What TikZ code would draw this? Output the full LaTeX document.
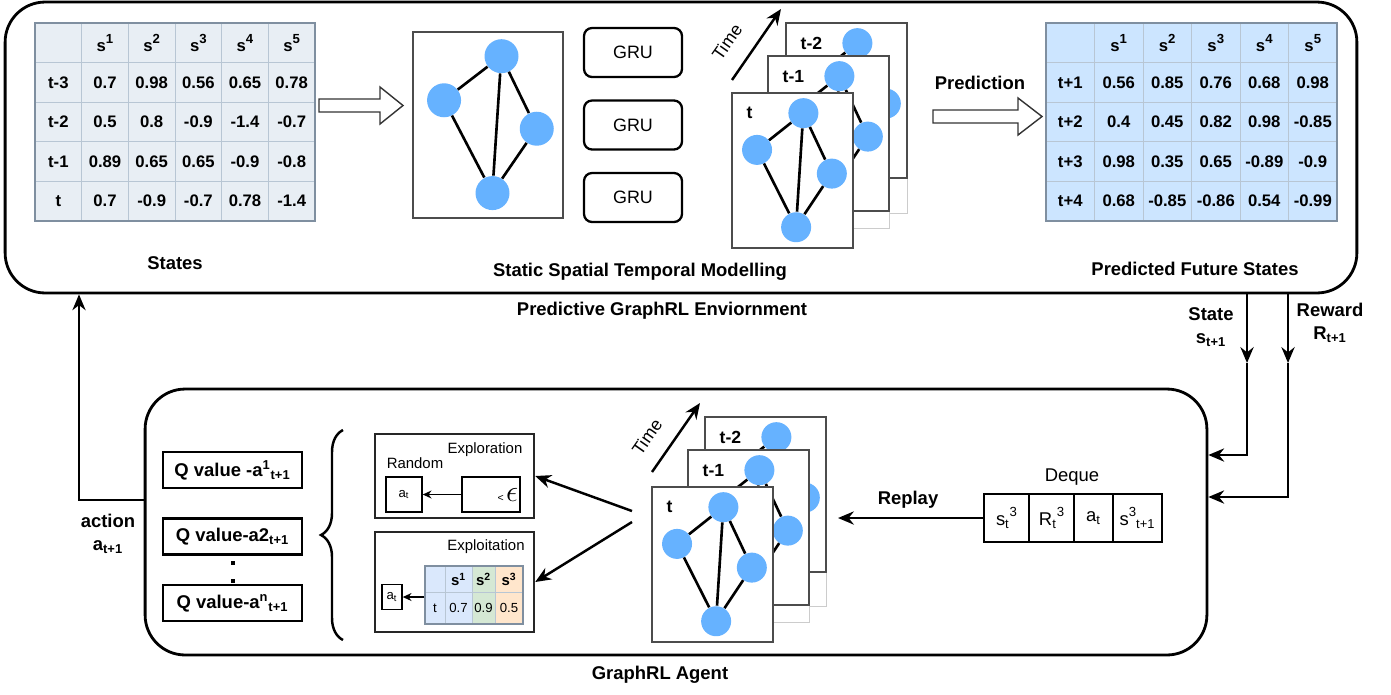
\documentclass[tikz,border=0pt]{standalone}
\usepackage{fontspec}
\setmainfont{Liberation Sans}
\usetikzlibrary{arrows.meta, decorations.pathreplacing}

\definecolor{gblue}{HTML}{66B2FF}
\definecolor{tgrey}{HTML}{E8EEF4}
\definecolor{tline}{HTML}{B8C6D4}
\definecolor{tedge}{HTML}{7F8FA0}
\definecolor{pblue}{HTML}{CCE5FF}
\definecolor{xblue}{HTML}{DAE8FC}
\definecolor{xgreen}{HTML}{D5E8D4}
\definecolor{xorange}{HTML}{FFE6CC}

\newcommand{\supx}[1]{\raisebox{0.45em}{\fontsize{7.5}{8}\selectfont #1}}

% table of states: name, x, y, column width, fill, rows
\newcommand{\datatable}[6]{%
  \fill[#5] (#2,#3) rectangle ++({6*#4},198);
  \foreach \k in {1,...,5}
    \draw[tline] ({#2+\k*#4},#3) -- ++(0,198);
  \foreach \k in {1,...,4}
    \draw[tline] (#2,{#3+\k*39.6}) -- ++({6*#4},0);
  \draw[tedge, line width=0.8pt] (#2,#3) rectangle ++({6*#4},198);
  \foreach \row [count=\j from 0] in {#6} {
    \foreach \cell [count=\i from 0] in \row {
      \node[cell] (#1-\j-\i) at ({#2+(\i+0.5)*#4},{#3+(\j+0.5)*39.6}) {\cell};
    }
  }
}

% one graph snapshot: name, x, y, width, height, node size, label
\newcommand{\graphframe}[7]{%
  \begin{scope}[shift={(#2,#3)}, xscale=#4, yscale=#5]
    \node[gframe, minimum width=#4*0.02cm, minimum height=#5*0.02cm] (#1) at (0.5,0.5) {};
    \node[gnode, minimum size=#6] (#1-a) at (0.59,0.13) {};
    \node[gnode, minimum size=#6] (#1-b) at (0.207,0.367) {};
    \node[gnode, minimum size=#6] (#1-c) at (0.825,0.52) {};
    \node[gnode, minimum size=#6] (#1-d) at (0.53,0.866) {};
    \draw[gedge] (#1-a) -- (#1-b) (#1-a) -- (#1-c) (#1-a) -- (#1-d)
                 (#1-b) -- (#1-d) (#1-c) -- (#1-d);
    \node[flabel] (#1-t) at (0.07,0.13) {#7};
  \end{scope}
}

\begin{document}
\begin{tikzpicture}[x=0.02cm, y=-0.02cm,
  lbl/.style={font=\fontsize{10.5}{13}\selectfont\bfseries},
  cell/.style={font=\fontsize{9.5}{11}\selectfont\bfseries, inner sep=0},
  gframe/.style={draw=black!70, fill=white, line width=0.8pt, inner sep=0},
  gnode/.style={circle, fill=gblue, inner sep=0},
  gedge/.style={line width=1.5pt},
  ghost/.style={draw=black!20, line width=0.6pt},
  flabel/.style={anchor=west, font=\fontsize{10}{12}\selectfont\bfseries},
  bigbox/.style={draw, line width=1.6pt, rounded corners=0.8cm, inner sep=0},
  grubox/.style={draw, line width=1.3pt, rounded corners=0.16cm, minimum width=1.96cm,
    minimum height=0.98cm, font=\fontsize{10.2}{12}\selectfont},
  qbox/.style={draw, line width=1.3pt, minimum width=2.78cm, minimum height=0.72cm,
    inner sep=0, font=\fontsize{10.5}{12}\selectfont\bfseries},
  dqcell/.style={draw, line width=0.8pt, minimum height=0.96cm, inner sep=0,
    font=\fontsize{10.5}{12}\selectfont},
  choice/.style={draw=black!85, line width=1.4pt, inner sep=0},
  atbox/.style={draw, line width=0.8pt, inner sep=0, font=\fontsize{7.5}{9}\selectfont},
  note/.style={font=\fontsize{8.5}{10}\selectfont},
  timelbl/.style={rotate=55, inner sep=1pt, font=\fontsize{10}{12}\selectfont},
  flow/.style={line width=1.4pt, -{Stealth[length=9pt, width=7.5pt]}},
  thinflow/.style={line width=0.8pt, -{Stealth[length=5pt, width=4.5pt]}},
  hollow/.style={draw=black!80, fill=white, line width=0.8pt}]
\useasboundingbox (0,0) rectangle (1391,694);

% environment
\node[bigbox, minimum width=27.04cm, minimum height=5.82cm] (env) at (681,147.5) {};
\node[lbl] (envlbl) at (662,311) {Predictive GraphRL Enviornment};

\datatable{st}{35}{23}{46.67}{tgrey}{%
  {{},s\supx{1},s\supx{2},s\supx{3},s\supx{4},s\supx{5}},
  {t-3,0.7,0.98,0.56,0.65,0.78},
  {t-2,0.5,0.8,-0.9,-1.4,-0.7},
  {t-1,0.89,0.65,0.65,-0.9,-0.8},
  {t,0.7,-0.9,-0.7,0.78,-1.4}}
\node[lbl] (stateslbl) at (175,263) {States};

\draw[hollow] (319,99) -- (380,99) -- (380,87) -- (403,105.5) -- (380,124)
  -- (380,112) -- (319,112) -- cycle;

\graphframe{g0}{413}{32}{150}{186}{0.68cm}{}
\foreach \y [count=\n] in {52.5,125,197.5}
  \node[grubox] (gru\n) at (633,\y) {GRU};

\graphframe{gb}{786}{23}{121}{155}{0.6cm}{t-2}
\draw[ghost] (gb.south east) -- ++(0,35) -- ++(-18,0);
\graphframe{gm}{768}{56}{121}{155}{0.6cm}{t-1}
\draw[ghost] (gm.south east) -- ++(0,17) -- ++(-36,0);
\graphframe{gf}{732}{93}{121}{155}{0.6cm}{t}
\coordinate (time0a) at (732,80);
\coordinate (time0b) at (781,9);
\draw[flow] (time0a) -- (time0b);
\node[timelbl] (time0) at (727,42) {Time};
\node[lbl] (modellbl) at (640,272) {Static Spatial Temporal Modelling};

\node[lbl] (predlbl) at (980,83) {Prediction};
\draw[hollow] (933,110) -- (1018,110) -- (1018,98) -- (1042,116.5) -- (1018,135)
  -- (1018,123) -- (933,123) -- cycle;

\datatable{pt}{1046}{23}{48.5}{pblue}{%
  {{},s\supx{1},s\supx{2},s\supx{3},s\supx{4},s\supx{5}},
  {t+1,0.56,0.85,0.76,0.68,0.98},
  {t+2,0.4,0.45,0.82,0.98,-0.85},
  {t+3,0.98,0.35,0.65,-0.89,-0.9},
  {t+4,0.68,-0.85,-0.86,0.54,-0.99}}
\node[lbl] (futurelbl) at (1195,269) {Predicted Future States};

% agent
\node[bigbox, minimum width=21.24cm, minimum height=5.32cm] (agent) at (676,522) {};
\node[lbl] (agentlbl) at (660,675) {GraphRL Agent};

\node[qbox] (q1) at (232.5,470) {Q value -a\textsuperscript{1}\textsubscript{t+1}};
\node[qbox] (q2) at (232.5,536.5) {Q value-a2\textsubscript{t+1}};
\node[qbox] (q3) at (232.5,603) {Q value-a\textsuperscript{n}\textsubscript{t+1}};
\fill (230.5,561) rectangle ++(4,4);
\fill (230.5,579) rectangle ++(4,4);
\draw[line width=1.4pt, decorate, decoration={brace, amplitude=0.44cm}] (343,640) -- (343,430);

\node[choice, minimum width=3.18cm, minimum height=1.68cm] (explore) at (454.5,476) {};
\node[note] (explorelbl) at (485,450) {Exploration};
\node[note] (randomlbl) at (415,463) {Random};
\node[atbox, minimum width=0.72cm, minimum height=0.7cm] (at1) at (404,494.5) {a\textsubscript{t}};
\node[atbox, minimum width=1.16cm, minimum height=0.7cm, text width=1.08cm, align=right] (eps)
  at (491,494.5) {{\fontsize{6}{6}\selectfont<}\,{\fontsize{17}{17}\selectfont$\epsilon$}};
\draw[thinflow] (eps) -- (at1);

\node[choice, minimum width=3.18cm, minimum height=2.0cm] (exploit) at (454.5,582) {};
\node[note] (exploitlbl) at (486,547) {Exploitation};
\fill[xblue] (425,566) rectangle (472,624);
\fill[xgreen] (472,566) rectangle (495,624);
\fill[xorange] (495,566) rectangle (523,624);
\draw[tline] (445,566) -- (445,624) (472,566) -- (472,624) (495,566) -- (495,624)
  (425,592) -- (523,592);
\node[draw=tedge, line width=0.8pt, minimum width=1.96cm, minimum height=1.16cm, inner sep=0]
  (xtab) at (474,595) {};
\foreach \x/\v [count=\i] in {458.5/s\textsuperscript{1},483.5/s\textsuperscript{2},509/s\textsuperscript{3}}
  \node[font=\fontsize{8.5}{9}\selectfont\bfseries, inner sep=0] (xh\i) at (\x,579) {\v};
\foreach \x/\v [count=\i] in {435/t,458.5/0.7,483.5/0.9,509/0.5}
  \node[font=\fontsize{7.5}{8}\selectfont, inner sep=0] (xr\i) at (\x,608) {\v};
\node[atbox, minimum width=0.4cm, minimum height=0.5cm] (at2) at (392,597) {a\textsubscript{t}};
\draw[thinflow] (xtab.west |- at2) -- (at2.east);

\graphframe{lb}{705}{417}{121}{155}{0.6cm}{t-2}
\draw[ghost] (lb.south east) -- ++(0,34) -- ++(-17,0);
\graphframe{lm}{688}{450}{121}{155}{0.6cm}{t-1}
\draw[ghost] (lm.south east) -- ++(0,17) -- ++(-36,0);
\graphframe{lf}{652}{487}{121}{155}{0.6cm}{t}
\coordinate (time1a) at (652,472);
\coordinate (time1b) at (700,403);
\draw[flow] (time1a) -- (time1b);
\node[timelbl] (time1) at (647,437) {Time};

\coordinate (fork1) at (632,511);
\coordinate (fork2) at (632,522);
\draw[flow] (fork1) -- (explore.east);
\draw[flow] (fork2) -- (exploit.east);

\node[font=\fontsize{10.5}{12}\selectfont] (dequelbl) at (1072,477) {Deque};
\node[dqcell, minimum width=0.9cm] (dq1) at (1006.5,518) {s\textsubscript{t}\supx{3}};
\node[dqcell, minimum width=0.9cm] (dq2) at (1051.5,518) {R\textsubscript{t}\supx{3}};
\node[dqcell, minimum width=0.78cm] (dq3) at (1093.5,518) {a\textsubscript{t}};
\node[dqcell, minimum width=0.98cm] (dq4) at (1137.5,518) {s\supx{3}\textsubscript{t+1}};
\coordinate (replayend) at (838,518);
\draw[flow] (dq1.west) -- (replayend);
\node[lbl] (replaylbl) at (908,500) {Replay};

% loop between environment and agent
\draw[flow] (agent.west |- 0,500) -| (env.south -| 79,0);
\node[lbl, align=center] (actionlbl) at (108,534) {action\\a\textsubscript{t+1}};
\draw[flow] (env.south -| 1247,0) -- (1247,363) coordinate (sjoin);
\draw[flow] (sjoin) |- (agent.east |- 0,455);
\node[lbl, align=center] (statelbl) at (1211,327) {State\\s\textsubscript{t+1}};
\draw[flow] (env.south -| 1288,0) -- (1288,363) coordinate (rjoin);
\draw[flow] (rjoin) |- (agent.east |- 0,497);
\node[lbl, align=center] (rewardlbl) at (1330,323) {Reward\\R\textsubscript{t+1}};
\end{tikzpicture}
\end{document}
